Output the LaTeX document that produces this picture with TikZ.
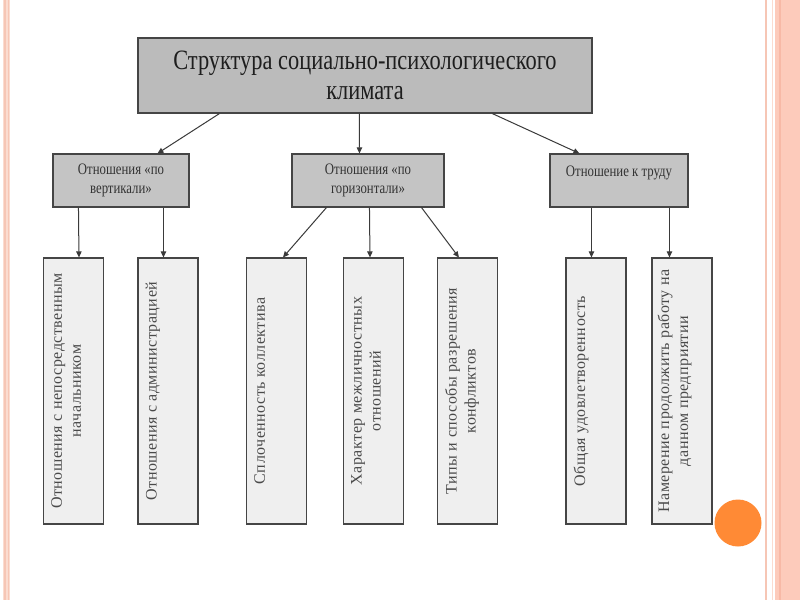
\documentclass[tikz,border=0pt]{standalone}
\usepackage{fontspec}
\setmainfont{Liberation Serif}
\newfontfamily\topfont[FakeStretch=0.8]{Liberation Serif}
\newfontfamily\midfont[FakeStretch=0.8]{Liberation Serif}
\newfontfamily\lowfont[LetterSpace=3]{Liberation Serif}
\usetikzlibrary{arrows.meta,calc}
\definecolor{topfill}{HTML}{BBBBBB}
\definecolor{midfill}{HTML}{C4C4C4}
\definecolor{lowfill}{HTML}{EFEFEF}
\definecolor{boxline}{HTML}{454545}
\definecolor{arrline}{HTML}{3A3A3A}
\definecolor{toptext}{HTML}{1E1E1E}
\definecolor{midtext}{HTML}{333333}
\definecolor{lowtext}{HTML}{4A4A4A}
\definecolor{pinkA}{HTML}{FBDCD0}
\definecolor{pinkB}{HTML}{F6C6B5}
\definecolor{pinkC}{HTML}{FDCBBB}
\definecolor{pinkD}{HTML}{F8B9A6}
\definecolor{dotfill}{HTML}{FF8A35}
\tikzset{
  topbox/.style={draw=boxline, line width=0.9pt, fill=topfill, minimum width=340.5pt,
    minimum height=56.25pt, align=center, inner sep=0pt, text=toptext,
    font=\topfont\fontsize{21pt}{22.5pt}\selectfont},
  midbox/.style={draw=boxline, line width=0.8pt, fill=midfill, minimum height=39.75pt,
    align=center, inner sep=0pt, text=midtext,
    font=\midfont\fontsize{12pt}{14pt}\selectfont},
  lowbox/.style={draw=boxline, line width=0.8pt, fill=lowfill, minimum width=45pt,
    minimum height=199.5pt, inner sep=0pt},
  lowtxt/.style={rotate=90, anchor=north, align=center, inner sep=0pt, text=lowtext,
    font=\lowfont\fontsize{12pt}{14.25pt}\selectfont},
  arr/.style={draw=arrline, line width=0.75pt, -{Triangle[length=4.5pt,width=4pt]}}
}
\begin{document}
\begin{tikzpicture}[x=0.75pt,y=-0.75pt]
\useasboundingbox (0,0) rectangle (800,600);
\fill[white] (0,0) rectangle (800,600);
% decorative stripes
\fill[pinkA] (3,0) rectangle (10,600);
\draw[pinkB, line width=0.8pt] (5,0) -- (5,600);
\draw[pinkB, line width=0.8pt] (8.5,0) -- (8.5,600);
\draw[pinkB, line width=1.5pt] (766,0) -- (766,600);
\draw[pinkA, line width=0.8pt] (772.5,0) -- (772.5,600);
\fill[pinkC] (775,0) rectangle (800,600);
\draw[pinkD, line width=2.2pt] (780,0) -- (780,600);
\fill[dotfill] (738,523) circle (23.5);

% boxes
\node[topbox] (top) at (365,75.5) {Структура социально-психологического\\климата};
\node[midbox, minimum width=102pt] (m1) at (121,180.5) {Отношения «по\\вертикали»};
\node[midbox, minimum width=114pt] (m2) at (368,180.5) {Отношения «по\\горизонтали»};
\node[midbox, minimum width=103.5pt] (m3) at (619,180.5) {Отношение к труду\\\mbox{}};

\node[lowbox] (c1) at (73.5,391) {};
\node[lowbox] (c2) at (168,391) {};
\node[lowbox] (c3) at (276.5,391) {};
\node[lowbox] (c4) at (373.5,391) {};
\node[lowbox] (c5) at (467.5,391) {};
\node[lowbox] (c6) at (596,391) {};
\node[lowbox] (c7) at (682,391) {};

\node[lowtxt] (t1) at ($(c1.west)+(8,0)$) {Отношения с непосредственным\\начальником};
\node[lowtxt] (t2) at ($(c2.west)+(8,0)$) {Отношения с администрацией};
\node[lowtxt] (t3) at ($(c3.west)+(8,0)$) {Сплоченность коллектива};
\node[lowtxt] (t4) at ($(c4.west)+(8,0)$) {Характер межличностных\\отношений};
\node[lowtxt] (t5) at ($(c5.west)+(8,0)$) {Типы и способы разрешения\\конфликтов};
\node[lowtxt] (t6) at ($(c6.west)+(8,0)$) {Общая удовлетворенность};
\node[lowtxt] (t7) at ($(c7.west)+(6,0)$) {Намерение продолжить работу на\\данном предприятии};

% connectors
\draw[arr] ($(top.south west)+(82,0)$) -- ($(m1.north west)+(105,0)$);
\draw[arr] ($(top.south west)+(222,0)$) -- ($(m2.north west)+(68,0)$);
\draw[arr] ($(top.south west)+(355,0)$) -- ($(m3.north west)+(30,0)$);

\draw[arr] ($(m1.south west)+(26,0)$) -- ($(c1.north west)+(36,0)$);
\draw[arr] ($(m1.south west)+(111,0)$) -- ($(c2.north west)+(26,0)$);
\draw[arr] ($(m2.south west)+(35,0)$) -- ($(c3.north west)+(37,0)$);
\draw[arr] ($(m2.south west)+(78,0)$) -- ($(c4.north west)+(27,0)$);
\draw[arr] ($(m2.south west)+(130,0)$) -- ($(c5.north west)+(22,0)$);
\draw[arr] ($(m3.south west)+(42,0)$) -- ($(c6.north west)+(26,0)$);
\draw[arr] ($(m3.south west)+(120,0)$) -- ($(c7.north west)+(18,0)$);
\end{tikzpicture}
\end{document}
